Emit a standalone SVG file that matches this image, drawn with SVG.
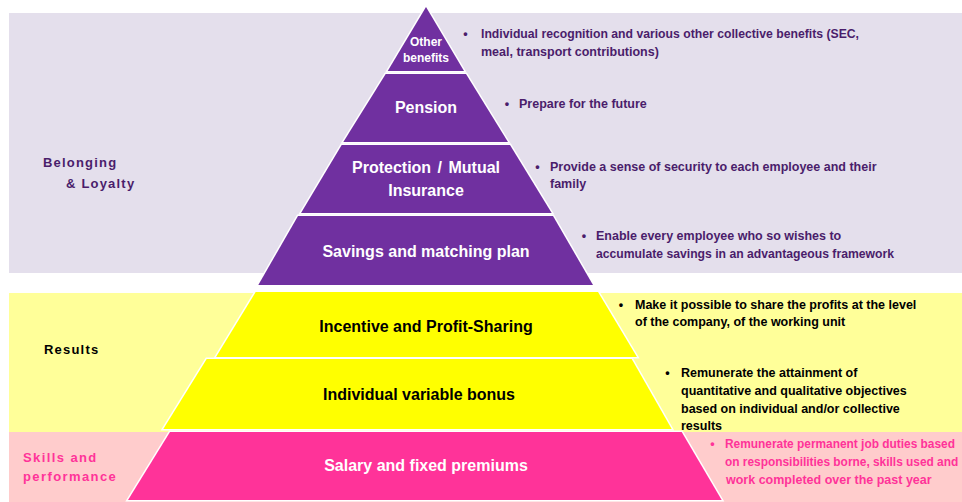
<svg xmlns="http://www.w3.org/2000/svg" width="962" height="502" viewBox="0 0 962 502">
<style>
.tier{stroke:#FFFFFF;stroke-width:3;paint-order:stroke;stroke-linejoin:miter}
.purple{fill:#7030A0}
.yellow{fill:#FFFF00}
.pink{fill:#FF3399}
.lbl{font-family:"Liberation Sans",Arial,sans-serif;font-weight:bold;font-size:16px;text-anchor:middle}
.w{fill:#FFFFFF}
.k{fill:#000000}
.side{font-family:"Liberation Sans",Arial,sans-serif;font-weight:bold;font-size:13px;letter-spacing:1.2px}
.bt{font-family:"Liberation Sans",Arial,sans-serif;font-weight:bold;font-size:12.5px}
.sm{font-size:11.9px}
.bu{text-anchor:middle}
.pt{fill:#4A1D6B}
.pk{fill:#FF3399}
</style>
<rect x="9" y="13" width="953" height="260" fill="#E4DFEC"/>
<rect x="9" y="293" width="953" height="139" fill="#FFFF99"/>
<rect x="9" y="432" width="953" height="70" fill="#FFCCCC"/>

<g id="tier-other-benefits">
<polygon class="tier purple" points="426,7 464,71 387.7,71"/>
<text class="lbl w" x="426" y="46" style="font-size:12px">Other</text>
<text class="lbl w" x="426" y="62" style="font-size:12px">benefits</text>
</g>
<g id="tier-pension">
<polygon class="tier purple" points="385.7,74 466,74 508,142 343.3,142"/>
<text class="lbl w" x="426" y="113">Pension</text>
</g>
<g id="tier-protection">
<polygon class="tier purple" points="341.7,145 510,145 551.7,213 301,213"/>
<text class="lbl w" x="426" y="173" style="word-spacing:2px">Protection / Mutual</text>
<text class="lbl w" x="426" y="196">Insurance</text>
</g>
<g id="tier-savings">
<polygon class="tier purple" points="298,216 553,216 593,285 258.3,285"/>
<text class="lbl w" x="426" y="257">Savings and matching plan</text>
</g>
<g id="tier-incentive">
<polygon class="tier yellow" points="255.7,292 598,292 637,357 216,357"/>
<text class="lbl k" x="426" y="332">Incentive and Profit-Sharing</text>
</g>
<g id="tier-variable-bonus">
<polygon class="tier yellow" points="206.7,359 631.7,359 671.7,429 163.3,429"/>
<text class="lbl k" x="419" y="400">Individual variable bonus</text>
</g>
<g id="tier-salary">
<polygon class="tier pink" points="170,432 681.7,432 721.7,500 128,500"/>
<text class="lbl w" x="426" y="471">Salary and fixed premiums</text>
</g>

<g id="label-belonging">
<text class="side pt" x="43" y="167">Belonging</text>
<text class="side pt" x="66" y="188">&amp; Loyalty</text>
</g>
<g id="label-results">
<text class="side k" x="44" y="354">Results</text>
</g>
<g id="label-skills">
<text class="side pk" x="23" y="462" style="letter-spacing:1.4px">Skills and</text>
<text class="side pk" x="23" y="481" style="letter-spacing:1.4px">performance</text>
</g>

<g id="desc-other-benefits" class="bt pt">
<text class="bu" x="465.5" y="38">•</text>
<text x="481" y="38" textLength="378" lengthAdjust="spacingAndGlyphs">Individual recognition and various other collective benefits (SEC,</text>
<text x="481" y="56">meal, transport contributions)</text>
</g>
<g id="desc-pension" class="bt pt">
<text class="bu" x="507" y="108">•</text>
<text x="519" y="108">Prepare for the future</text>
</g>
<g id="desc-protection" class="bt pt">
<text class="bu" x="537.5" y="171">•</text>
<text x="550" y="171">Provide a sense of security to each employee and their</text>
<text x="550" y="188">family</text>
</g>
<g id="desc-savings" class="bt pt">
<text class="bu" x="584" y="240">•</text>
<text x="596" y="240">Enable every employee who so wishes to</text>
<text x="596" y="258" textLength="298" lengthAdjust="spacingAndGlyphs">accumulate savings in an advantageous framework</text>
</g>
<g id="desc-incentive" class="bt k">
<text class="bu" x="621" y="309">•</text>
<text x="635" y="309">Make it possible to share the profits at the level</text>
<text x="635" y="326">of the company, of the working unit</text>
</g>
<g id="desc-variable-bonus" class="bt k">
<text class="bu" x="667.5" y="377">•</text>
<text x="681" y="377">Remunerate the attainment of</text>
<text x="681" y="395">quantitative and qualitative objectives</text>
<text x="681" y="413">based on individual and/or collective</text>
<text x="681" y="430">results</text>
</g>
<g id="desc-salary" class="bt pk">
<text class="bu" x="712.5" y="448">•</text>
<text class="sm" x="725" y="448">Remunerate permanent job duties based</text>
<text class="sm" x="725" y="466">on responsibilities borne, skills used and</text>
<text x="726" y="484">work completed over the past year</text>
</g>
</svg>
